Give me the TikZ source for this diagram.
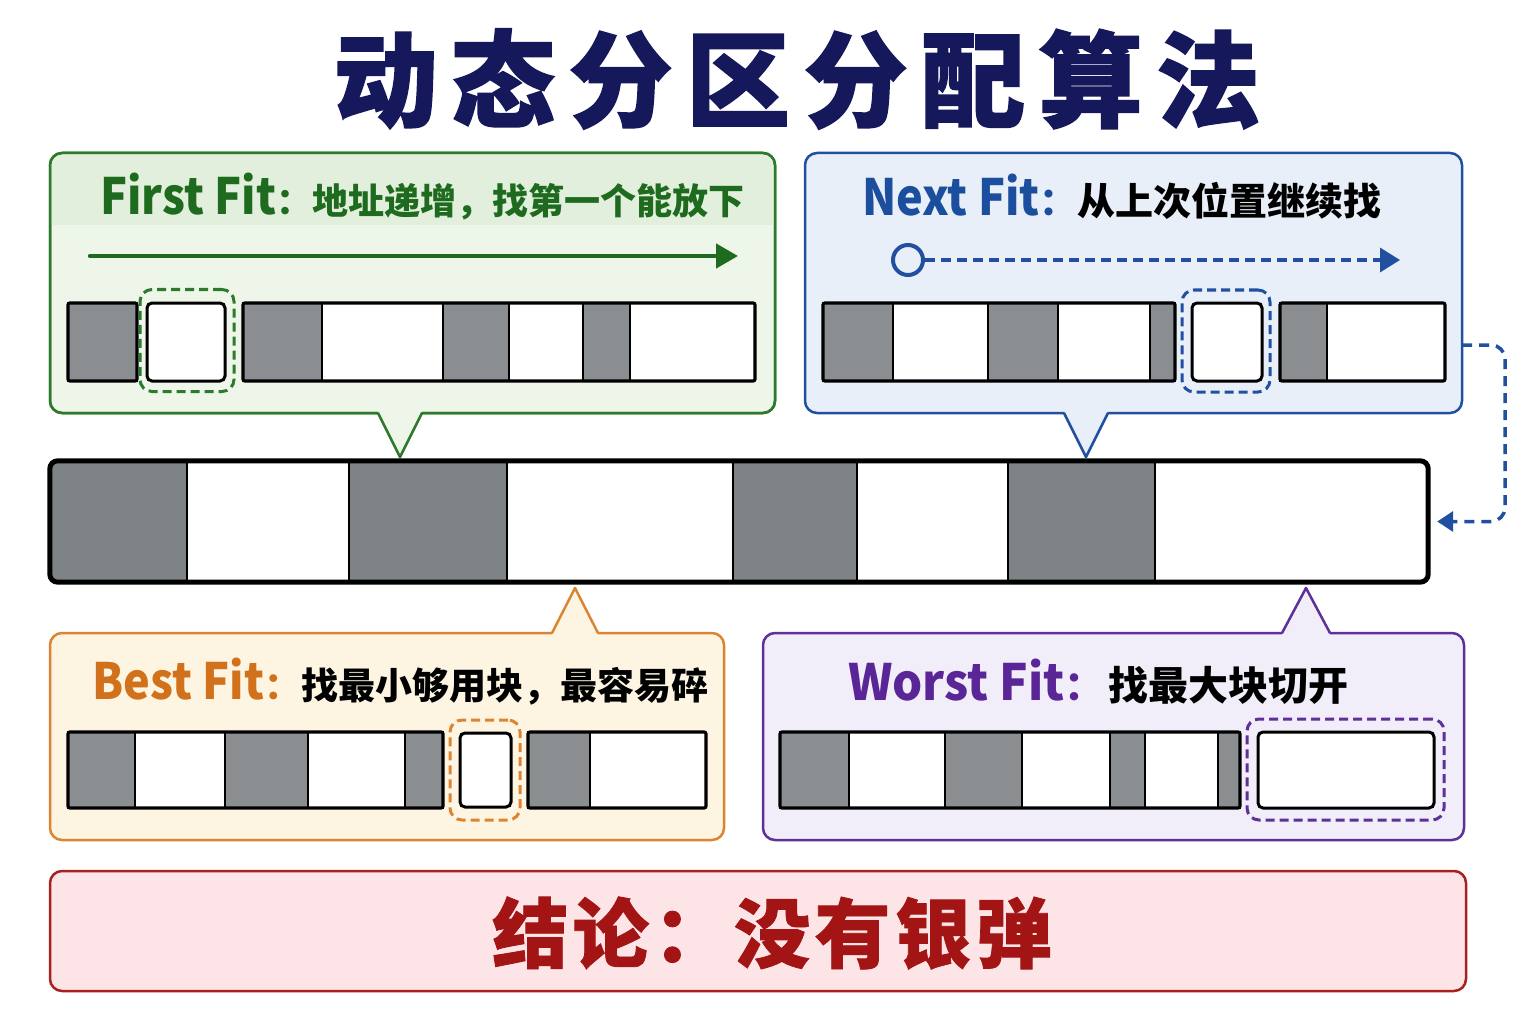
\documentclass[tikz,border=0pt]{standalone}
\usepackage{fontspec}
\usepackage{graphicx}
\setmainfont{Noto Sans CJK SC}
\usetikzlibrary{arrows.meta}
\definecolor{titleC}{HTML}{15185A}
\definecolor{ffB}{HTML}{2D7A2D}\definecolor{ffF}{HTML}{EEF6EA}\definecolor{ffH}{HTML}{E2EFDC}\definecolor{ffT}{HTML}{1E6A1E}
\definecolor{nfB}{HTML}{2150A0}\definecolor{nfF}{HTML}{E9EFF9}\definecolor{nfT}{HTML}{1B4F9E}
\definecolor{bfB}{HTML}{DB8533}\definecolor{bfF}{HTML}{FDF5E2}\definecolor{bfT}{HTML}{D2711B}
\definecolor{wfB}{HTML}{5E3098}\definecolor{wfF}{HTML}{F1EEFA}\definecolor{wfT}{HTML}{5A2596}
\definecolor{rcB}{HTML}{A82020}\definecolor{rcF}{HTML}{FDE4E6}\definecolor{rcT}{HTML}{A31414}
\definecolor{cellgray}{HTML}{8A8E91}
\definecolor{maingray}{HTML}{7E8386}
\newcommand\latin[1]{{\fontsize{50}{50}\selectfont\bfseries\scalebox{0.9}[1]{#1}}}
\newcommand\cjkt[2]{{\fontsize{#1}{#1}\selectfont\bfseries #2}}
\newcommand\memstrip[6]{% x0 x1 y0 y1 graycells color
  \fill[white] (#1,#3) rectangle (#2,#4);
  \foreach \a/\b in {#5} {\filldraw[fill=#6, draw=black, line width=2pt] (\a,#3) rectangle (\b,#4);}
  \draw[black, line width=3.2pt, rounded corners=2pt] (#1,#3) rectangle (#2,#4);
}
\begin{document}
\begin{tikzpicture}[x=1pt,y=-1pt,
  panel/.style={rounded corners=12pt, line width=2.5pt, inner sep=0pt, outer sep=0pt},
  hlbox/.style={rounded corners=12pt, line width=3pt, dash pattern=on 9pt off 5pt, inner sep=0pt},
  hlcell/.style={rounded corners=5pt, line width=3pt, draw=black, fill=white, inner sep=0pt},
  ptr/.style={line width=2.5pt, line join=round}]
\useasboundingbox (0,0) rectangle (1536,1024);
\fill[white] (0,0) rectangle (1536,1024);

% title
\node[inner sep=0pt, text=titleC] (title) at (797,79)
  {\addfontfeatures{LetterSpace=13,FakeBold=1.5}\fontsize{104}{104}\selectfont\bfseries 动态分区分配算法};

% ===== First Fit panel =====
\node[panel, draw=ffB, fill=ffF, minimum width=725pt, minimum height=260pt] (ff) at (412.5,283) {};
\fill[ffH] (51.5,225) {[rounded corners=11pt] -- (51.5,154.5) -- (773.5,154.5)} -- (773.5,225) -- cycle;
\draw[panel, draw=ffB] (ff.north west) rectangle (ff.south east);
\fill[ffF] (378,411) -- (400,457) -- (422,411) -- cycle;
\draw[ptr, draw=ffB] (378,413) -- (400,457) -- (422,413);
\node[anchor=west, inner sep=0pt, text=ffT] (fft) at (100,197)
  {\latin{First Fit}\cjkt{36}{：地址递增，找第一个能放下}};
\coordinate (ffa0) at (90,256);
\coordinate (ffa1) at (738,256);
\draw[ffT, line width=4.5pt, line cap=round, -{Triangle[length=22pt,width=24pt]}] (ffa0) -- (ffa1);
\memstrip{68}{137}{303}{381}{68/137}{cellgray}
\memstrip{243}{755}{303}{381}{243/322,443/509,583/630}{cellgray}
\node[hlbox, draw=ffB, minimum width=94pt, minimum height=102pt] (ffhl) at (187,340.5) {};
\node[hlcell, minimum width=78pt, minimum height=78pt] (ffc) at (186,342) {};

% ===== Next Fit panel =====
\node[panel, draw=nfB, fill=nfF, minimum width=657pt, minimum height=260pt] (nf) at (1133.5,283) {};
\fill[nfF] (1064,411) -- (1086,457) -- (1108,411) -- cycle;
\draw[ptr, draw=nfB] (1064,413) -- (1086,457) -- (1108,413);
\node[anchor=west, inner sep=0pt] (nft) at (862,197)
  {\textcolor{nfT}{\latin{Next Fit}\cjkt{38}{：}}\cjkt{38}{从上次位置继续找}};
\node[circle, draw=nfB, fill=nfF, line width=4pt, minimum size=30pt, inner sep=0pt] (nfo) at (908,260) {};
\coordinate (nfa1) at (1400,260);
\draw[nfB, line width=3.5pt, dash pattern=on 10pt off 6pt, -{Triangle[length=20pt,width=24pt]}] (nfo.east) -- (nfa1);
\memstrip{823}{1175}{303}{381}{823/893,988/1058,1150/1175}{cellgray}
\memstrip{1280}{1445}{303}{381}{1280/1327}{cellgray}
\node[hlbox, draw=nfB, minimum width=88pt, minimum height=102pt] (nfhl) at (1226,341) {};
\node[hlcell, minimum width=70pt, minimum height=78pt] (nfc) at (1227,342) {};

% ===== main memory strip =====
\node[inner sep=0pt, minimum width=1378pt, minimum height=121pt] (mem) at (739,521.5) {};
\fill[white] (50,461) rectangle (1428,582);
\foreach \a/\b in {50/187,349/507,733/857,1008/1155}
  \fill[maingray] (\a,461) rectangle (\b,582);
\foreach \x in {187,349,507,733,857,1008,1155}
  \draw[black, line width=2.5pt] (\x,461) -- (\x,582);
\draw[black, line width=5pt, rounded corners=8pt] (mem.north west) rectangle (mem.south east);

% connector next fit -> memory
\draw[nfB, line width=3.5pt, dash pattern=on 10pt off 7pt, rounded corners=14pt,
  -{Triangle[length=16pt,width=20pt]}]
  ([yshift=-62pt]nf.east) -- (1505,345) -- (1505,521.5) -- ([xshift=9pt]mem.east);

% ===== Best Fit panel =====
\node[panel, draw=bfB, fill=bfF, minimum width=674pt, minimum height=207pt] (bf) at (387,736.5) {};
\fill[bfF] (552,635) -- (575,588) -- (598,635) -- cycle;
\draw[ptr, draw=bfB] (552,633) -- (575,588) -- (598,633);
\node[anchor=west, inner sep=0pt] (bft) at (92,682)
  {\textcolor{bfT}{\latin{Best Fit}\cjkt{37}{：}}\cjkt{37}{找最小够用块，最容易碎}};
\memstrip{68}{443}{732}{808}{68/135,225/308,405/443}{cellgray}
\memstrip{528}{706}{732}{808}{528/590}{cellgray}
\node[hlbox, draw=bfB, minimum width=70pt, minimum height=100pt] (bfhl) at (485,770) {};
\node[hlcell, minimum width=51pt, minimum height=74pt] (bfc) at (485.5,770) {};

% ===== Worst Fit panel =====
\node[panel, draw=wfB, fill=wfF, minimum width=701pt, minimum height=207pt] (wf) at (1113.5,736.5) {};
\fill[wfF] (1282,635) -- (1306,588) -- (1330,635) -- cycle;
\draw[ptr, draw=wfB] (1282,633) -- (1306,588) -- (1330,633);
\node[anchor=west, inner sep=0pt] (wft) at (848,682)
  {\textcolor{wfT}{{\fontsize{50}{50}\selectfont\bfseries\scalebox{0.95}[1]{Worst Fit}}\cjkt{40}{：}}\cjkt{40}{\hspace{4pt}找最大块切开}};
\memstrip{780}{1240}{732}{808}{780/849,945/1022,1110/1145,1218/1240}{cellgray}
\node[hlbox, draw=wfB, minimum width=197pt, minimum height=101pt] (wfhl) at (1345.5,769.5) {};
\node[hlcell, minimum width=176pt, minimum height=76pt] (wfc) at (1346,770) {};

% ===== conclusion =====
\node[panel, draw=rcB, fill=rcF, minimum width=1416pt, minimum height=120pt] (concl) at (758,931) {};
\node[inner sep=0pt, text=rcT] (conclt) at (772,933)
  {\addfontfeatures{LetterSpace=6,FakeBold=1}\fontsize{76}{76}\selectfont\bfseries 结论：没有银弹};
\end{tikzpicture}
\end{document}
